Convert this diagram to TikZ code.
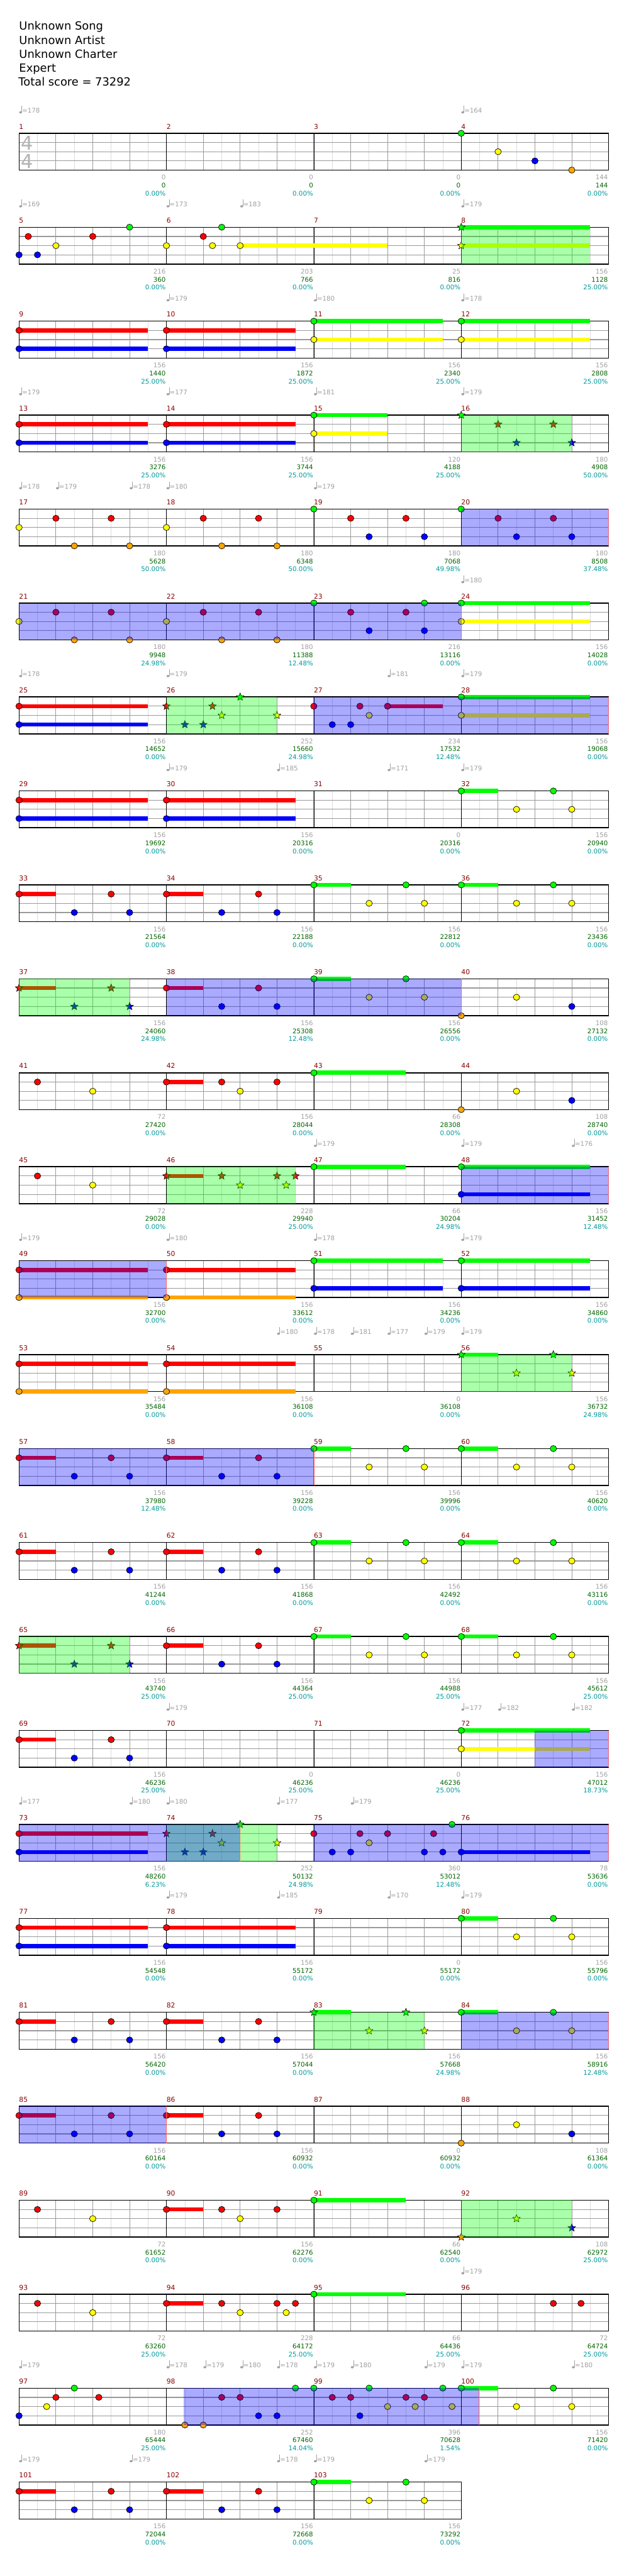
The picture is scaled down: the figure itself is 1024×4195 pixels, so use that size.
\documentclass[tikz,border=0pt]{standalone}
\usepackage{fontspec}
\setmainfont{DejaVu Sans}
\usetikzlibrary{shapes.geometric}
\definecolor{lane0}{HTML}{00FF00}
\definecolor{lane1}{HTML}{FF0000}
\definecolor{lane2}{HTML}{FFFF00}
\definecolor{lane3}{HTML}{0000FF}
\definecolor{lane4}{HTML}{FFA500}
\definecolor{mred}{HTML}{8B0000}
\definecolor{sgreen}{HTML}{006400}
\definecolor{pteal}{HTML}{009999}
\definecolor{labgray}{HTML}{A0A0A0}
\definecolor{gridgray}{HTML}{9A9A9A}
\definecolor{subgray}{HTML}{DCDCDC}
\tikzset{
  gem/.style={draw=black,line width=0.7pt},
  spstar/.style={star,star points=5,star point ratio=2.3,minimum size=13pt,
    inner sep=0pt,draw=black,line width=0.6pt},
  subln/.style={draw=subgray,line width=0.8pt},
  beatln/.style={draw=gridgray,line width=1pt},
  laneln/.style={draw=gridgray,line width=1.2pt},
  barln/.style={draw=black,line width=0.8pt},
  staffbox/.style={draw=black,line width=1.5pt},
  mnum/.style={text=mred,font=\fontsize{11}{12}\selectfont,anchor=base west,inner sep=0pt},
  graylab/.style={text=labgray,font=\fontsize{10.5}{12}\selectfont,anchor=east,inner sep=0pt},
  scorelab/.style={graylab,text=sgreen},
  pctlab/.style={graylab,text=pteal},
  tempolab/.style={text=labgray,font=\fontsize{10.5}{12}\selectfont,anchor=west,inner sep=0pt},
  tsig/.style={text=labgray!80,font=\fontsize{31}{31}\selectfont,inner sep=0pt},
  titletxt/.style={font=\fontsize{18.3}{22}\selectfont,anchor=base west,inner sep=0pt},
  spfill/.style={fill=lane0,fill opacity=0.3333},
  odfill/.style={fill=lane3,fill opacity=0.3333},
  odend/.style={draw=red!60,line width=0.6pt},
}
% measure m -> left edge \mx and staff top \my
\newcommand\atmeas[1]{%
  \pgfmathtruncatemacro\mrow{(#1-1)/4}%
  \pgfmathtruncatemacro\mcol{#1-1-4*\mrow}%
  \pgfmathsetmacro\mx{31+240*\mcol}%
  \pgfmathsetmacro\my{217+153*\mrow}}
\newcommand\gem[3]{\atmeas{#1}%
  \filldraw[gem,fill=lane#3] ({\mx+#2*30},{\my+#3*15}) ellipse [x radius=5.2,y radius=5];}
\newcommand\spgem[3]{\atmeas{#1}\pgfmathtruncatemacro\pk{#2*10}%
  \node[spstar,fill=lane#3] (sp#1-\pk-#3) at ({\mx+#2*30},{\my+#3*15}) {};}
\newcommand\sus[4]{\atmeas{#1}%
  \fill[lane#3] ({\mx+#2*30},{\my+#3*15-3.4}) rectangle ++({#4*30},6.8);}
\newcommand\spzone[3]{\atmeas{#1}%
  \fill[spfill] ({\mx+#2*30},\my) rectangle ++({#3*30},60);}
\newcommand\odzone[3]{\atmeas{#1}%
  \fill[odfill] ({\mx+#2*30},\my) rectangle ++({#3*30},60);
  \draw[odend] ({\mx+(#2+#3)*30},\my) -- ++(0,60);}
\newcommand\bpm[3]{\atmeas{#1}\pgfmathsetmacro\tx{\mx+#2*30}%
  \fill[labgray] ({\tx+2.5},{\my-34}) ellipse [x radius=2.4,y radius=1.8];
  \draw[labgray,line width=0.8pt] ({\tx+4.6},{\my-34}) -- ({\tx+4.6},{\my-45});
  \node[tempolab] (t#1-#2) at ({\tx+5},{\my-37}) {=#3};}

\begin{document}
\begin{tikzpicture}[x=1pt,y=-1pt]
  \useasboundingbox (0,0) rectangle (1024,4195);
  \fill[white] (0,0) rectangle (1024,4195);

  % header
  \node[titletxt] (song)    at (31,49)  {Unknown Song};
  \node[titletxt] (artist)  at (31,72)  {Unknown Artist};
  \node[titletxt] (charter) at (31,95)  {Unknown Charter};
  \node[titletxt] (diff)    at (31,117) {Expert};
  \node[titletxt] (total)   at (30,140) {Total score = 73292};

  % staves
  \foreach \r in {0,...,25}{
    \pgfmathsetmacro\yy{217+153*\r}
    \pgfmathtruncatemacro\nm{ifthenelse(\r==25,3,4)}
    \pgfmathtruncatemacro\ne{8*\nm-1}
    \pgfmathtruncatemacro\nf{8*\nm-2}
    \pgfmathtruncatemacro\nb{\nm-1}
    \foreach \k in {1,3,...,\ne} \draw[subln] ({31+\k*30},\yy) -- ++(0,60);
    \foreach \k in {2,4,...,\nf} \draw[beatln] ({31+\k*30},\yy) -- ++(0,60);
    \foreach \l in {1,2,3} \draw[laneln] (31,{\yy+15*\l}) -- ++({240*\nm},0);
    \foreach \c in {1,...,\nb} \draw[barln] ({31+240*\c},\yy) -- ++(0,60);
    \draw[staffbox] (31,\yy) rectangle ++({240*\nm},60);
  }
  \node[tsig] (tsup) at (44,233) {4};
  \node[tsig] (tslo) at (44,263) {4};

  % sustains
  \foreach \m/\p/\l/\n in {15/0/0/4,15/0/2/4,43/0/0/5,47/0/0/5,91/0/0/5,95/0/0/5,
      76/0/3/7,6/4/2/8,27/4/1/3,42/0/1/2,90/0/1/2,94/0/1/2,
      8/0/0/7,8/0/2/7,46/0/1/2,37/0/1/2,65/0/1/2,56/0/0/2,83/0/0/2}
    {\sus{\m}{\p}{\l}{\n}}
  \foreach \m/\a/\b in {9/1/3,10/1/3,13/1/3,14/1/3,25/1/3,29/1/3,30/1/3,73/1/3,77/1/3,
      78/1/3,11/0/2,12/0/2,24/0/2,28/0/2,72/0/2,49/1/4,50/1/4,53/1/4,54/1/4,
      51/0/3,52/0/3,48/0/3}
    {\sus{\m}{0}{\a}{7}\sus{\m}{0}{\b}{7}\gem{\m}{0}{\a}\gem{\m}{0}{\b}}

  % riffs
  \foreach \m in {33,34,38,57,58,61,62,66,69,81,82,85,86,101,102}{
    \sus{\m}{0}{1}{2}
    \foreach \p/\l in {0/1,3/3,5/1,6/3} {\gem{\m}{\p}{\l}}
  }
  \foreach \m in {32,35,36,39,59,60,63,64,67,68,80,84,100,103}{
    \sus{\m}{0}{0}{2}
    \foreach \p/\l in {0/0,3/2,5/0,6/2} {\gem{\m}{\p}{\l}}
  }
  \foreach \m in {17,18,21,22}
    \foreach \p/\l in {0/2,2/1,3/4,5/1,6/4} {\gem{\m}{\p}{\l}};
  \foreach \m in {19,20,23}
    \foreach \p/\l in {0/0,2/1,3/3,5/1,6/3} {\gem{\m}{\p}{\l}};
  \foreach \m in {40,44,88}
    \foreach \p/\l in {0/4,3/2,6/3} {\gem{\m}{\p}{\l}};
  \foreach \m in {41,45,89,93}
    \foreach \p/\l in {1/1,4/2} {\gem{\m}{\p}{\l}};
  \foreach \m in {42,90,94}
    \foreach \p/\l in {0/1,3/1,4/2,6/1} {\gem{\m}{\p}{\l}};

  % other gems
  \foreach \m/\p/\l in {4/0/0,4/2/2,4/4/3,4/6/4,
      5/0/3,5/0.5/1,5/1/3,5/2/2,5/4/1,5/6/0,
      6/0/2,6/2/1,6/2.5/2,6/3/0,6/4/2,15/0/0,15/0/2,23/6/0,
      27/0/1,27/1/3,27/2/3,27/2.5/1,27/3/2,27/4/1,
      75/0/1,75/1/3,75/2/3,75/2.5/1,75/3/2,75/4/1,75/6/3,75/6.5/1,75/7/3,75/7.5/0,
      76/0/3,43/0/0,47/0/0,91/0/0,95/0/0,94/6.5/2,94/7/1,96/5/1,96/6.5/1,
      97/0/3,97/1.5/2,97/2/1,97/3/0,97/4.33/1,
      98/1/4,98/2/4,98/3/1,98/4/1,98/5/3,98/6/3,98/7/0,
      99/0/0,99/1/1,99/2/1,99/2.5/3,99/3/0,99/4/2,99/5/1,99/5.5/2,99/6/1,99/7/0,99/7.5/2}
    {\gem{\m}{\p}{\l}}

  % star power gems
  \foreach \m/\p/\l in {8/0/0,8/0/2,16/0/0,16/2/1,16/3/3,16/5/1,16/6/3,
      46/0/1,46/3/1,46/4/2,46/6/1,46/6.5/2,46/7/1,92/0/4,92/3/2,92/6/3}
    {\spgem{\m}{\p}{\l}}
  \foreach \m in {26,74}
    \foreach \p/\l in {0/1,1/3,2/3,2.5/1,3/2,4/0,6/2} {\spgem{\m}{\p}{\l}};
  \foreach \m in {37,65}
    \foreach \p/\l in {0/1,3/3,5/1,6/3} {\spgem{\m}{\p}{\l}};
  \foreach \m in {56,83}
    \foreach \p/\l in {0/0,3/2,5/0,6/2} {\spgem{\m}{\p}{\l}};

  % phrases and activations
  \foreach \m/\p/\n in {8/0/7,16/0/6,26/0/6,37/0/6,46/0/7,56/0/6,65/0/6,74/0/6,83/0/6,92/0/6}
    {\spzone{\m}{\p}{\n}}
  \foreach \m/\p/\n in {20/0/8,21/0/24,27/0/16,38/0/16,48/0/8,49/0/8,57/0/16,72/4/4,
      73/0/12,75/0/16,84/0/8,85/0/8,98/0.95/16}
    {\odzone{\m}{\p}{\n}}

  % tempo marks
  \foreach \m/\p/\v in {1/0/178,4/0/164,5/0/169,6/0/173,6/4/183,8/0/179,
      10/0/179,11/0/180,12/0/178,13/0/179,14/0/177,15/0/181,16/0/179,
      17/0/178,17/2/179,17/6/178,18/0/180,19/0/179,24/0/180,
      25/0/178,26/0/179,27/4/181,28/0/179,30/0/179,30/6/185,31/4/171,32/0/179,
      47/0/179,48/0/179,48/6/176,49/0/179,50/0/180,51/0/178,52/0/179,
      54/6/180,55/0/178,55/2/181,55/4/177,55/6/179,56/0/179,
      70/0/179,72/0/177,72/2/182,72/6/182,73/0/177,73/6/180,74/0/180,74/6/177,75/2/179,
      78/0/179,78/6/185,79/4/170,80/0/179,96/0/179,
      97/0/179,98/0/178,98/2/179,98/4/180,98/6/178,99/0/179,99/2/180,99/6/179,
      100/0/179,100/6/180,101/0/179,101/6/179,102/6/178,103/0/179,103/6/179}
    {\bpm{\m}{\p}{\v}}

  % measure numbers
  \foreach \m in {1,...,103}{
    \atmeas{\m}
    \node[mnum] (num\m) at ({\mx},{\my-7}) {\m};
  }

  % per-measure scores
  \foreach \m/\g/\s/\p in {1/0/0/0.00,2/0/0/0.00,3/0/0/0.00,4/144/144/0.00,
      5/216/360/0.00,6/203/766/0.00,7/25/816/0.00,8/156/1128/25.00,
      9/156/1440/25.00,10/156/1872/25.00,11/156/2340/25.00,12/156/2808/25.00,
      13/156/3276/25.00,14/156/3744/25.00,15/120/4188/25.00,16/180/4908/50.00,
      17/180/5628/50.00,18/180/6348/50.00,19/180/7068/49.98,20/180/8508/37.48,
      21/180/9948/24.98,22/180/11388/12.48,23/216/13116/0.00,24/156/14028/0.00,
      25/156/14652/0.00,26/252/15660/24.98,27/234/17532/12.48,28/156/19068/0.00,
      29/156/19692/0.00,30/156/20316/0.00,31/0/20316/0.00,32/156/20940/0.00,
      33/156/21564/0.00,34/156/22188/0.00,35/156/22812/0.00,36/156/23436/0.00,
      37/156/24060/24.98,38/156/25308/12.48,39/156/26556/0.00,40/108/27132/0.00,
      41/72/27420/0.00,42/156/28044/0.00,43/66/28308/0.00,44/108/28740/0.00,
      45/72/29028/0.00,46/228/29940/25.00,47/66/30204/24.98,48/156/31452/12.48,
      49/156/32700/0.00,50/156/33612/0.00,51/156/34236/0.00,52/156/34860/0.00,
      53/156/35484/0.00,54/156/36108/0.00,55/0/36108/0.00,56/156/36732/24.98,
      57/156/37980/12.48,58/156/39228/0.00,59/156/39996/0.00,60/156/40620/0.00,
      61/156/41244/0.00,62/156/41868/0.00,63/156/42492/0.00,64/156/43116/0.00,
      65/156/43740/25.00,66/156/44364/25.00,67/156/44988/25.00,68/156/45612/25.00,
      69/156/46236/25.00,70/0/46236/25.00,71/0/46236/25.00,72/156/47012/18.73,
      73/156/48260/6.23,74/252/50132/24.98,75/360/53012/12.48,76/78/53636/0.00,
      77/156/54548/0.00,78/156/55172/0.00,79/0/55172/0.00,80/156/55796/0.00,
      81/156/56420/0.00,82/156/57044/0.00,83/156/57668/24.98,84/156/58916/12.48,
      85/156/60164/0.00,86/156/60932/0.00,87/0/60932/0.00,88/108/61364/0.00,
      89/72/61652/0.00,90/156/62276/0.00,91/66/62540/0.00,92/108/62972/25.00,
      93/72/63260/25.00,94/228/64172/25.00,95/66/64436/25.00,96/72/64724/25.00,
      97/180/65444/25.00,98/252/67460/14.04,99/396/70628/1.54,100/156/71420/0.00,
      101/156/72044/0.00,102/156/72668/0.00,103/156/73292/0.00}{
    \atmeas{\m}
    \node[graylab]  (gv\m) at ({\mx+239},{\my+72}) {\g};
    \node[scorelab] (sc\m) at ({\mx+239},{\my+85}) {\s};
    \node[pctlab]   (pc\m) at ({\mx+239},{\my+98}) {\p\%};
  }
\end{tikzpicture}
\end{document}
